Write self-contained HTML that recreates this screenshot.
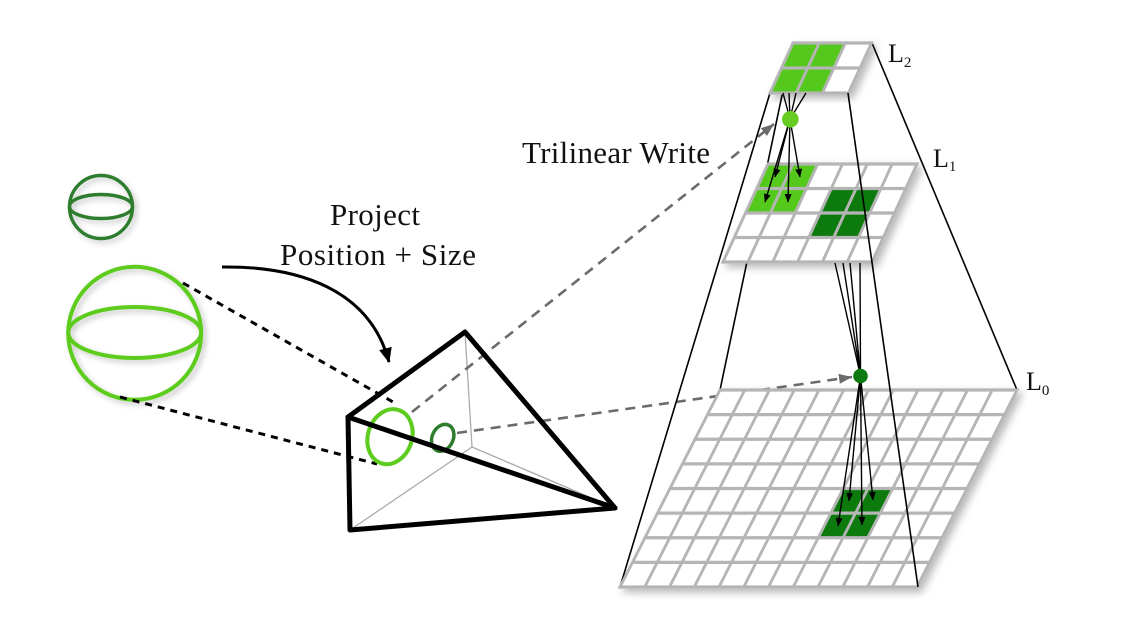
<!DOCTYPE html>
<html>
<head>
<meta charset="utf-8">
<style>
  html, body { margin: 0; padding: 0; background: #ffffff; }
  svg { display: block; }
  text { font-family: "Liberation Serif", "Times New Roman", serif; fill: #111; }
</style>
</head>
<body>
<svg width="1146" height="628" viewBox="0 0 1146 628" xmlns="http://www.w3.org/2000/svg">
  <defs>
    <filter id="sh" x="-20%" y="-20%" width="140%" height="140%">
      <feDropShadow dx="4" dy="4" stdDeviation="4" flood-color="#000" flood-opacity="0.28"/>
    </filter>
    <filter id="sh2" x="-20%" y="-20%" width="140%" height="140%">
      <feDropShadow dx="3" dy="3" stdDeviation="3" flood-color="#000" flood-opacity="0.22"/>
    </filter>
    <marker id="ab" markerWidth="9" markerHeight="8" refX="8" refY="3.5" orient="auto" markerUnits="userSpaceOnUse">
      <path d="M0,0 L8.5,3.5 L0,7 z" fill="#000"/>
    </marker>
    <marker id="ag" markerWidth="14" markerHeight="11" refX="13" refY="5" orient="auto" markerUnits="userSpaceOnUse">
      <path d="M0,0 L13,5 L0,10 z" fill="#6b6b6b"/>
    </marker>
    <marker id="ak" markerWidth="16" markerHeight="14" refX="14" refY="6.5" orient="auto" markerUnits="userSpaceOnUse">
      <path d="M0,0 L15,6.5 L0,13 z" fill="#000"/>
    </marker>
  </defs>

  <!-- Spheres -->
  <g filter="url(#sh2)" fill="none">
    <circle cx="101" cy="207" r="31.5" stroke="#2d7d2d" stroke-width="3.4"/>
    <ellipse cx="101" cy="206.5" rx="31.5" ry="12" stroke="#2d7d2d" stroke-width="3.4"/>
    <circle cx="134.7" cy="333.3" r="66.5" stroke="#5dcc1f" stroke-width="4"/>
    <ellipse cx="134.7" cy="332.5" rx="66.5" ry="25.5" stroke="#5dcc1f" stroke-width="4"/>
  </g>

  <!-- Dotted projection lines -->
  <line x1="183" y1="283" x2="393" y2="402" stroke="#000" stroke-width="3" stroke-dasharray="7 6"/>
  <line x1="120" y1="397" x2="377" y2="464" stroke="#000" stroke-width="3" stroke-dasharray="7 6"/>

  <!-- Curved arrow -->
  <path d="M222,267 C300,266 370,290 389,362" fill="none" stroke="#000" stroke-width="3" marker-end="url(#ak)"/>

  <!-- Labels -->
  <text x="330" y="225" font-size="31" textLength="90" lengthAdjust="spacing">Project</text>
  <text x="280" y="265" font-size="31" textLength="196" lengthAdjust="spacing">Position + Size</text>
  <text x="522" y="163" font-size="31" textLength="188" lengthAdjust="spacing">Trilinear Write</text>

  <!-- Pyramid thin interior lines -->
  <g stroke="#aaaaaa" stroke-width="1.3" fill="none">
    <line x1="465" y1="332" x2="472" y2="447"/>
    <line x1="472" y1="447" x2="350" y2="530"/>
    <line x1="472" y1="447" x2="615" y2="508"/>
  </g>

  <!-- Dashed gray arrows -->
  <line x1="412" y1="412" x2="774" y2="124" stroke="#6b6b6b" stroke-width="2.6" stroke-dasharray="10 7" marker-end="url(#ag)"/>
  <line x1="457" y1="433" x2="852" y2="377" stroke="#6b6b6b" stroke-width="2.6" stroke-dasharray="10 7" marker-end="url(#ag)"/>

  <!-- Projected ellipses -->
  <ellipse cx="390" cy="436.7" rx="22" ry="28" transform="rotate(18 390 436.7)" fill="none" stroke="#5dcc1f" stroke-width="4"/>
  <ellipse cx="442.7" cy="437.8" rx="10.5" ry="14" transform="rotate(25 442.7 437.8)" fill="none" stroke="#2d7d2d" stroke-width="3.5"/>

  <!-- Pyramid thick edges -->
  <g stroke="#000" stroke-width="5" fill="none" stroke-linejoin="round" stroke-linecap="round">
    <path d="M348,417 L465,332 L615,508 L350,530 Z"/>
    <line x1="348" y1="417" x2="615" y2="508"/>
  </g>

  <!-- Frustum lines (behind grids) -->
  <g stroke="#000" stroke-width="1.6" fill="none">
    <line x1="793" y1="43" x2="720" y2="390"/>
    <line x1="872" y1="43" x2="1017" y2="390"/>
    <line x1="770" y1="93" x2="620" y2="587"/>
  </g>

  <!-- Grids -->
  <!-- L0 -->
  <g filter="url(#sh)">
    <g transform="translate(720,390) skewX(-26.92)">
      <rect x="0" y="0" width="297" height="197" fill="#fff"/>
      <rect x="173.25" y="98.5" width="49.5" height="49.25" fill="#0b7a0b"/>
      <path d="M0 0H297M0 24.625H297M0 49.25H297M0 73.875H297M0 98.5H297M0 123.125H297M0 147.75H297M0 172.375H297M0 197H297M0 0V197M24.75 0V197M49.5 0V197M74.25 0V197M99 0V197M123.75 0V197M148.5 0V197M173.25 0V197M198 0V197M222.75 0V197M247.5 0V197M272.25 0V197M297 0V197" stroke="#b5b5b5" stroke-width="3.2" fill="none" stroke-linecap="square"/>
    </g>
  </g>
  <!-- L1 -->
  <g filter="url(#sh)">
    <g transform="translate(768,164) skewX(-24.65)">
      <rect x="0" y="0" width="149" height="98" fill="#fff"/>
      <rect x="0" y="0" width="49.67" height="49" fill="#55c81a"/>
      <rect x="74.5" y="24.5" width="49.67" height="49" fill="#0b7a0b"/>
      <path d="M0 0H149M0 24.5H149M0 49H149M0 73.5H149M0 98H149M0 0V98M24.83 0V98M49.67 0V98M74.5 0V98M99.33 0V98M124.17 0V98M149 0V98" stroke="#b5b5b5" stroke-width="3.2" fill="none" stroke-linecap="square"/>
    </g>
  </g>
  <!-- L2 -->
  <g filter="url(#sh)">
    <g transform="translate(793,43) skewX(-24.7)">
      <rect x="0" y="0" width="78.5" height="50" fill="#fff"/>
      <rect x="0" y="0" width="52.33" height="50" fill="#55c81a"/>
      <path d="M0 0H78.5M0 25H78.5M0 50H78.5M0 0V50M26.17 0V50M52.33 0V50M78.5 0V50" stroke="#b5b5b5" stroke-width="3.2" fill="none" stroke-linecap="square"/>
    </g>
  </g>

  <!-- Frustum line visible over grids -->
  <line x1="848" y1="93" x2="918" y2="587" stroke="#000" stroke-width="1.6"/>

  <!-- L2 -> dot -> L1 -->
  <g stroke="#000" stroke-width="1.4" fill="none">
    <line x1="783" y1="93" x2="790" y2="119"/>
    <line x1="789" y1="93" x2="790" y2="119"/>
    <line x1="796" y1="93" x2="790" y2="119"/>
    <line x1="806" y1="93" x2="790" y2="119"/>
    <line x1="790" y1="119" x2="775" y2="177" marker-end="url(#ab)"/>
    <line x1="790" y1="119" x2="800" y2="177" marker-end="url(#ab)"/>
    <line x1="790" y1="119" x2="765" y2="202" marker-end="url(#ab)"/>
    <line x1="790" y1="119" x2="788" y2="202" marker-end="url(#ab)"/>
  </g>
  <circle cx="790.3" cy="119.3" r="8.3" fill="#66cc22"/>

  <!-- L1 -> dot -> L0 -->
  <g stroke="#000" stroke-width="1.4" fill="none">
    <line x1="835" y1="263" x2="860.5" y2="376"/>
    <line x1="843" y1="263" x2="860.5" y2="376"/>
    <line x1="850" y1="263" x2="860.5" y2="376"/>
    <line x1="860" y1="263" x2="860.5" y2="376"/>
    <line x1="860.5" y1="376" x2="849" y2="501" marker-end="url(#ab)"/>
    <line x1="860.5" y1="376" x2="873" y2="500" marker-end="url(#ab)"/>
    <line x1="860.5" y1="376" x2="838" y2="526" marker-end="url(#ab)"/>
    <line x1="860.5" y1="376" x2="862" y2="525" marker-end="url(#ab)"/>
  </g>
  <circle cx="860.5" cy="376" r="7.3" fill="#0d7a0d"/>

  <!-- Level labels -->
  <text x="888" y="62" font-size="26">L<tspan font-size="15" dy="5">2</tspan></text>
  <text x="933" y="167" font-size="26">L<tspan font-size="15" dy="4">1</tspan></text>
  <text x="1026" y="390" font-size="26">L<tspan font-size="15" dy="5">0</tspan></text>
</svg>
</body>
</html>
